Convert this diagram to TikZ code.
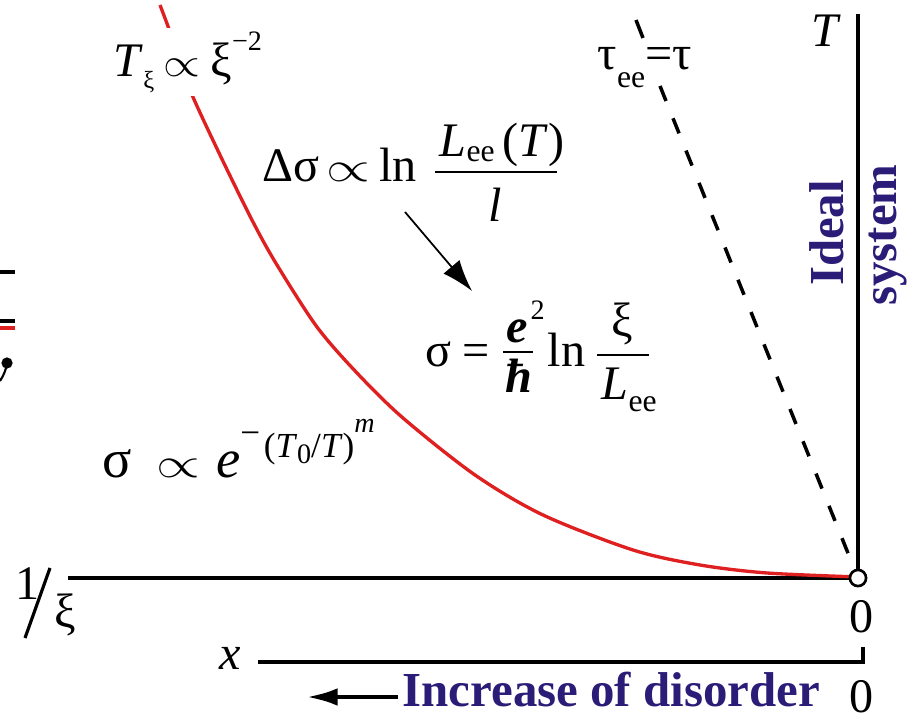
\documentclass[tikz,border=0pt]{standalone}
\usepackage{fontspec}
\setmainfont{Liberation Serif}
\usetikzlibrary{arrows.meta}
\definecolor{navy}{RGB}{43,28,120}
\definecolor{curvered}{RGB}{222,32,32}
\newcommand{\fmain}{\fontsize{13.7pt}{16pt}\selectfont}
\newcommand{\fbig}{\fontsize{15.5pt}{17pt}\selectfont}
\newcommand{\fsub}{\fontsize{9pt}{10pt}\selectfont}
\newcommand{\fsup}{\fontsize{8pt}{9pt}\selectfont}
\newcommand{\ftin}{\fontsize{7pt}{8pt}\selectfont}
\newcommand{\fexp}{\fontsize{10pt}{11pt}\selectfont}
\newcommand{\fblue}{\fontsize{13.9pt}{16pt}\selectfont\bfseries}
\newcommand{\prp}{\scalebox{1.35}[1.15]{\fontsize{10pt}{12pt}\selectfont$\propto$}}
\newcommand{\prpb}{\scalebox{1.6}[1.2]{\fontsize{10pt}{12pt}\selectfont$\propto$}}
\begin{document}
\begin{tikzpicture}[x=0.01cm,y=-0.01cm,
  txt/.style={inner sep=0pt,font=\fmain},
  axisln/.style={line width=1.4pt,black},
  bluelbl/.style={inner sep=0pt,font=\fblue,text=navy},
  fracln/.style={line width=0.45pt}]
\useasboundingbox (0,0) rectangle (915,719);

% fragments at the left edge
\draw[line width=1.1pt] (0,272) -- (15,272);
\draw[line width=1.1pt] (0,321) -- (15,321);
\draw[line width=1.1pt,curvered] (0,328) -- (15,328);
\draw[line width=0.6pt] (0,381) .. controls (4,375) and (6,369) .. (7,364);
\fill (7,363) circle (1.6pt);

% axes
\coordinate (O) at (858,578);
\coordinate (Ttop) at (858,14);
\coordinate (Xleft) at (68,578);
\draw[axisln] (Ttop) -- (O);
\draw[axisln] (Xleft) -- (O);
\coordinate (Xa) at (258,662);
\coordinate (Xb) at (863,662);
\coordinate (Xc) at (863,647);
\draw[axisln,line width=1.3pt] (Xa) -- (Xb) -- (Xc);

% red curve
\draw[curvered,line width=0.95pt] plot[smooth] coordinates {(160,5) (173,40) (190,90) (220,155) (253,222) (277,265) (317,327) (357,373) (403,418) (475,475) (543,515) (633,550) (700,565) (767,573) (858,577)};

% dashed line
\coordinate (D1) at (636,20);
\coordinate (D2) at (643,38);
\coordinate (D3) at (660,86);
\draw[line width=1pt] (D1) -- (D2);
\draw[line width=1pt,dash pattern=on 4.6pt off 5.3pt] (D3) -- (O);

% origin circle
\node[circle,draw,fill=white,line width=0.75pt,minimum size=4.6pt,inner sep=0pt] (o) at (O) {};

% labels
\node[txt,anchor=base] (T) at (826,47) {\textit{T}};
\node[txt,anchor=base] (zero1) at (862,633) {0};
\node[txt,anchor=base] (zero2) at (862,712) {0};
\node[txt,anchor=base] (xl) at (230,670) {\textit{x}};
\node[txt,anchor=base west] (one) at (15,600) {1};
\coordinate (S1) at (25,638);
\coordinate (S2) at (50,568);
\draw[line width=0.9pt] (S1) -- (S2);
\node[txt,anchor=base west] (xi) at (54,628) {ξ};

% formulas
\node[txt,anchor=base west,fill=white,inner ysep=1pt] (f1) at (113,77) {\textit{T}\raisebox{-3.3pt}{\ftin ξ}\hspace{2.5pt}\prp\hspace{3pt}ξ\raisebox{7.5pt}{\fsup −2}};

\node[txt,anchor=base west] (f2) at (597,70) {τ\raisebox{-5pt}{\fsub ee}=τ};

\node[txt,anchor=base west] (f3) at (262,182) {Δσ\hspace{2pt}\prpb\hspace{2.5pt}ln};
\node[txt,anchor=base west] (f3n) at (439,157) {\textit{L}\raisebox{-1.4pt}{\fsub ee}\,(\textit{T})};
\coordinate (F3a) at (435,172);
\coordinate (F3b) at (557,172);
\draw[fracln] (F3a) -- (F3b);
\node[txt,anchor=base] (f3d) at (495,222) {\textit{l}};

\coordinate (Ar1) at (405,212);
\coordinate (Ar2) at (472,291);
\draw[line width=0.5pt,-{Latex[length=9pt,width=6pt]}] (Ar1) -- (Ar2);

\node[txt,anchor=base west] (f4) at (425,367) {σ\hspace{3pt}=};
\node[txt,anchor=base west] (f4e) at (506,343) {\textbf{\textit{e}}};
\node[inner sep=0pt,anchor=base west,font=\fsup] (f4sq) at (530,320) {2};
\coordinate (F4a) at (503,352);
\coordinate (F4b) at (533,352);
\draw[fracln] (F4a) -- (F4b);
\node[txt,anchor=base west] (f4h) at (505,393) {\textbf{\textit{ħ}}};
\node[txt,anchor=base west] (f4ln) at (547,367) {ln};
\node[txt,anchor=base] (f4xi) at (622,337) {ξ};
\coordinate (F4c) at (597,355);
\coordinate (F4d) at (649,355);
\draw[fracln] (F4c) -- (F4d);
\node[txt,anchor=base west] (f4L) at (601,400) {\textit{L}\raisebox{-3.4pt}{\fsub ee}};

\node[txt,anchor=base west] (f5) at (102,478) {{\fbig σ}\hspace{7pt}\prpb\hspace{4.5pt}{\fbig\textit{e}}\raisebox{9.5pt}{\fexp −}\hspace{1pt}\raisebox{5.7pt}{\fexp (\textit{T}\raisebox{-1.5pt}{\fsup 0}/\textit{T})}\raisebox{12.8pt}{\fsup\textit{m}}};

% blue labels
\node[bluelbl,anchor=base,rotate=90] (ideal) at (843,233) {Ideal};
\node[bluelbl,anchor=base,rotate=90] (system) at (896,235) {system};
\node[bluelbl,anchor=base west] (incr) at (402,707) {Increase of disorder};
\coordinate (B1) at (398,697);
\coordinate (B2) at (306,697);
\draw[line width=1.4pt,-{Latex[length=9pt,width=5pt]}] (B1) -- (B2);
\end{tikzpicture}
\end{document}
